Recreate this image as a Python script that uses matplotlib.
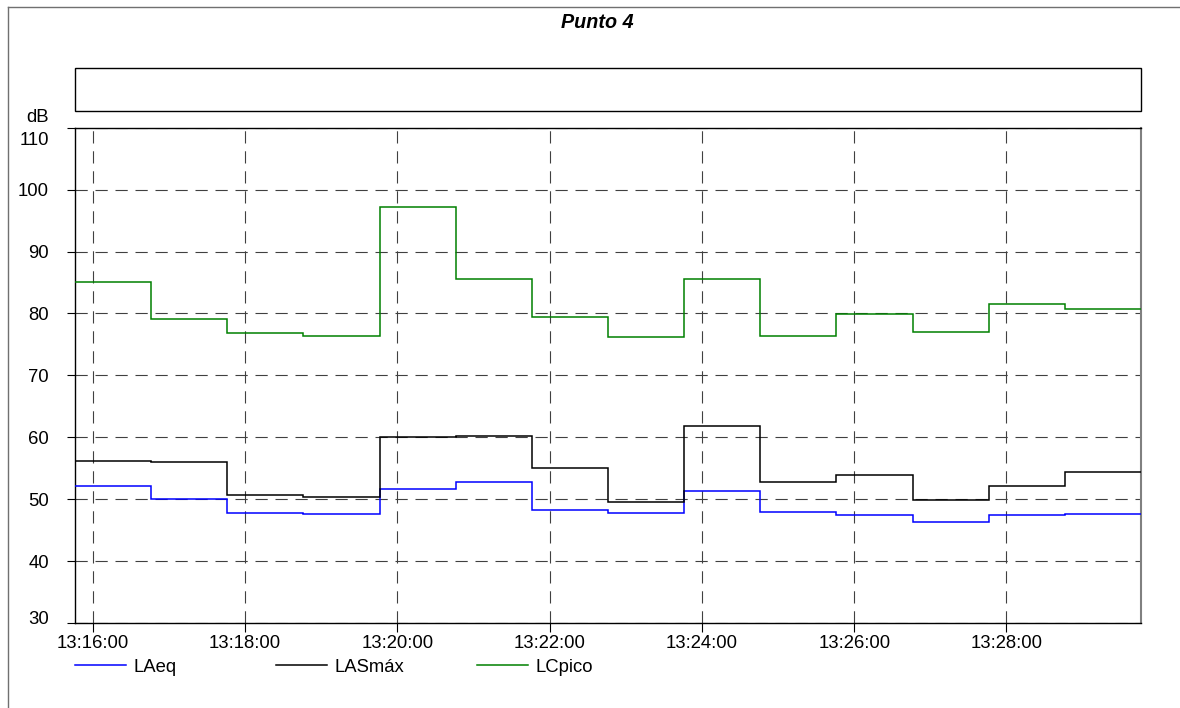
import datetime as dt
import matplotlib
matplotlib.use("Agg")
import matplotlib.pyplot as plt
import matplotlib.dates as mdates
import matplotlib.transforms as mtransforms
from matplotlib.lines import Line2D
from matplotlib.patches import Rectangle

# ---------------- data ----------------
title = "Punto 4"
edge_times = ["13:15:46", "13:16:46", "13:17:46", "13:18:46", "13:19:46",
              "13:20:46", "13:21:46", "13:22:46", "13:23:46", "13:24:46",
              "13:25:46", "13:26:46", "13:27:46", "13:28:46", "13:29:46"]
laeq = [52.2, 50.0, 47.7, 47.6, 51.7, 52.7, 48.3, 47.8, 51.3, 48.0, 47.5, 46.3, 47.4, 47.6]
lasmax = [56.2, 56.0, 50.6, 50.4, 60.0, 60.2, 55.0, 49.5, 61.8, 52.7, 53.9, 49.9, 52.2, 54.4]
lcpico = [85.1, 79.1, 76.8, 76.4, 97.2, 85.5, 79.4, 76.2, 85.6, 76.4, 79.9, 77.0, 81.5, 80.7]
series_names = ["LAeq", "LASmáx", "LCpico"]
xtick_times = ["13:16:00", "13:18:00", "13:20:00", "13:22:00", "13:24:00", "13:26:00", "13:28:00"]
yticks = [30, 40, 50, 60, 70, 80, 90, 100, 110]
y_unit = "dB"

# ---------------- style ----------------
plt.rcParams['font.family'] = ['Liberation Sans', 'DejaVu Sans']
FS = 13.3
W, H = 1180, 708
fig = plt.figure(figsize=(W / 100, H / 100), dpi=100)

def fx(px):
    return px / W

def fy(py):
    return 1 - py / H

day = dt.date(2020, 1, 1)
def tnum(s):
    h, m, sec = map(int, s.split(":"))
    return mdates.date2num(dt.datetime.combine(day, dt.time(h, m, sec)))

edges = [tnum(t) for t in edge_times]

# outer frame (top and left edges)
fig.add_artist(Line2D([fx(8), 1.0], [fy(7), fy(7)], color="#707070", lw=1.0, transform=fig.transFigure))
fig.add_artist(Line2D([fx(8), fx(8)], [fy(7), 0.0], color="#707070", lw=1.0, transform=fig.transFigure))

# title
fig.text(fx(597), fy(23), title, ha="center", va="center", fontsize=14.2,
         fontweight="bold", fontstyle="italic")

# empty box
fig.add_artist(Rectangle((fx(75), fy(111)), fx(1141) - fx(75), fy(67.7) - fy(111),
                         fill=False, edgecolor="black", lw=1.0, transform=fig.transFigure))

# main axes
ax = fig.add_axes([fx(75), fy(623), fx(1141) - fx(75), fy(127.7) - fy(623)])
colors = ["#0000ff", "#000000", "#008000"]
for vals, col in zip([laeq, lasmax, lcpico], colors):
    ax.stairs(vals, edges, baseline=None, color=col, lw=1.1, zorder=3)

ax.set_xlim(edges[0], edges[-1])
ax.set_ylim(yticks[0], yticks[-1])
ax.set_yticks(yticks)
ax.set_yticklabels([str(v) for v in yticks], fontsize=FS)
ax.set_xticks([tnum(t) for t in xtick_times])
ax.set_xticklabels(xtick_times, fontsize=FS)

ax.tick_params(axis="y", direction="out", length=5.8, width=0.8, pad=13)
ax.tick_params(axis="x", direction="out", length=6.5, width=0.8, pad=2.5)

ax.grid(True, color="#404040", lw=0.8, linestyle=(0, (11, 7)))

for s in ["left", "bottom", "top"]:
    ax.spines[s].set_color("black")
    ax.spines[s].set_linewidth(1.0)
ax.spines["right"].set_color("#808080")
ax.spines["right"].set_linewidth(1.5)

# shift the end labels inward as in the reference
lbls = ax.get_yticklabels()
lbls[-1].set_transform(lbls[-1].get_transform() +
                       mtransforms.ScaledTranslation(0, -11 / 100, fig.dpi_scale_trans))
lbls[0].set_transform(lbls[0].get_transform() +
                      mtransforms.ScaledTranslation(0, 5 / 100, fig.dpi_scale_trans))

# unit label
fig.text(fx(49), fy(118), y_unit, ha="right", va="center", fontsize=FS)

# legend (three single-entry legends placed at reference positions)
leg_x = [75, 276, 477]
for name, col, xp in zip(series_names, colors, leg_x):
    h = Line2D([], [], color=col, lw=1.1)
    lg = fig.legend(handles=[h], labels=[name], loc="center left",
                    bbox_to_anchor=(fx(xp), fy(667)), frameon=False, fontsize=FS,
                    borderpad=0, borderaxespad=0, handlelength=2.75, handletextpad=0.43)

fig.savefig("out.png", dpi=100)
